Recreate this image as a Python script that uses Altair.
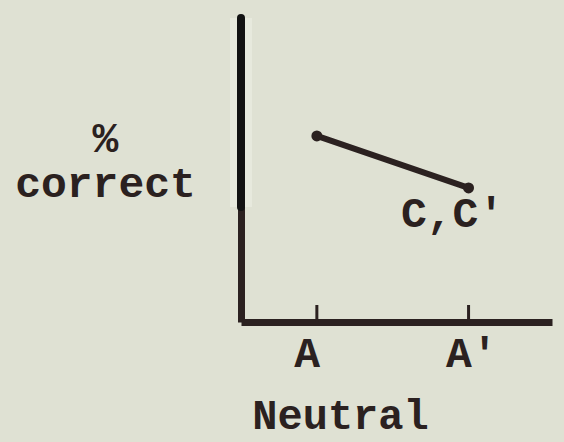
import altair as alt
import pandas as pd

# Conditions on the horizontal axis and their positions
conditions = ["A", "A'"]
cond_pos = [1, 3]
# Percent correct for the C,C' series
pct_correct = [61.2, 44.1]
series_label = "C,C'"
# Vertical axis: heavy upper stretch (percent range)
axis_heavy_from = [37.8]
axis_heavy_to = [100]
tick_top = [5.6]

FONT = "Liberation Mono"
INK = "#2b2120"
BG = "#dfe1d3"

line_df = pd.DataFrame({"pos": cond_pos, "pct": pct_correct, "cond": conditions})
label_df = pd.DataFrame({"pos": [cond_pos[-1]], "pct": [pct_correct[-1]], "label": [series_label]})
heavy_df = pd.DataFrame({"pos": [0], "lo": axis_heavy_from, "hi": axis_heavy_to})
tick_df = pd.DataFrame({"pos": cond_pos, "lo": [0] * len(cond_pos), "hi": tick_top * len(cond_pos)})

x_scale = alt.Scale(domain=[0, 4.1], nice=False, zero=False)
y_scale = alt.Scale(domain=[0, 100], nice=False)

label_expr = "datum.value == 1 ? 'A' : \"A'\""

x_axis = alt.Axis(
    values=cond_pos, labelExpr=label_expr, grid=False, ticks=False, tickSize=0,
    domain=True, domainColor=INK, domainWidth=7,
    labelFont=FONT, labelFontWeight="bold", labelFontSize=43, labelColor=INK,
    labelAlign="left", labelOffset=-23, labelBaseline="middle", labelPadding=31,
    title="Neutral", titleFont=FONT, titleFontWeight="bold", titleFontSize=42,
    titleColor=INK, titleX=99, titleY=93, titleAlign="center", titleBaseline="middle",
)
y_axis = alt.Axis(
    labels=False, ticks=False, tickSize=0, grid=False,
    domain=True, domainColor=INK, domainWidth=7,
    title=["%", "correct"], titleFont=FONT, titleFontWeight="bold", titleFontSize=43,
    titleColor=INK, titleAngle=0, titleX=-136, titleY=120, titleAlign="center",
    titleBaseline="middle", titleLineHeight=45,
)

base_x = alt.X("pos:Q", scale=x_scale, axis=x_axis)
base_y = alt.Y("pct:Q", scale=y_scale, axis=y_axis)

axes_layer = alt.Chart(line_df).mark_point(opacity=0).encode(x=base_x, y=base_y)

halo = alt.Chart(heavy_df).mark_rule(color="#e9ebe0", strokeWidth=22, opacity=0.8).encode(
    x=alt.X("pos:Q", scale=x_scale), y=alt.Y("lo:Q", scale=y_scale), y2="hi:Q"
)
heavy = alt.Chart(heavy_df).mark_rule(color="#121212", strokeWidth=8, strokeCap="round").encode(
    x=alt.X("pos:Q", scale=x_scale), y=alt.Y("lo:Q", scale=y_scale), y2="hi:Q"
)
ticks = alt.Chart(tick_df).mark_rule(color=INK, strokeWidth=3).encode(
    x=alt.X("pos:Q", scale=x_scale), y=alt.Y("lo:Q", scale=y_scale), y2="hi:Q"
)
line = alt.Chart(line_df).mark_line(color=INK, strokeWidth=6, strokeCap="round").encode(
    x=alt.X("pos:Q", scale=x_scale), y=alt.Y("pct:Q", scale=y_scale)
)
dots = alt.Chart(line_df).mark_circle(color=INK, size=120, opacity=1).encode(
    x=alt.X("pos:Q", scale=x_scale), y=alt.Y("pct:Q", scale=y_scale)
)
text = alt.Chart(label_df).mark_text(
    font=FONT, fontWeight="bold", fontSize=43, color=INK,
    align="center", baseline="middle", dx=-16, dy=26,
).encode(x=alt.X("pos:Q", scale=x_scale), y=alt.Y("pct:Q", scale=y_scale), text="label:N")

chart = alt.layer(axes_layer, halo, heavy, ticks, line, dots, text).properties(
    width=311, height=304,
    autosize=alt.AutoSizeParams(type="none"),
    padding={"left": 241, "top": 18, "right": 12, "bottom": 120},
    background=BG,
).configure_view(stroke=None)

chart.save("out.html", embed_options={"renderer": "svg", "actions": False})
